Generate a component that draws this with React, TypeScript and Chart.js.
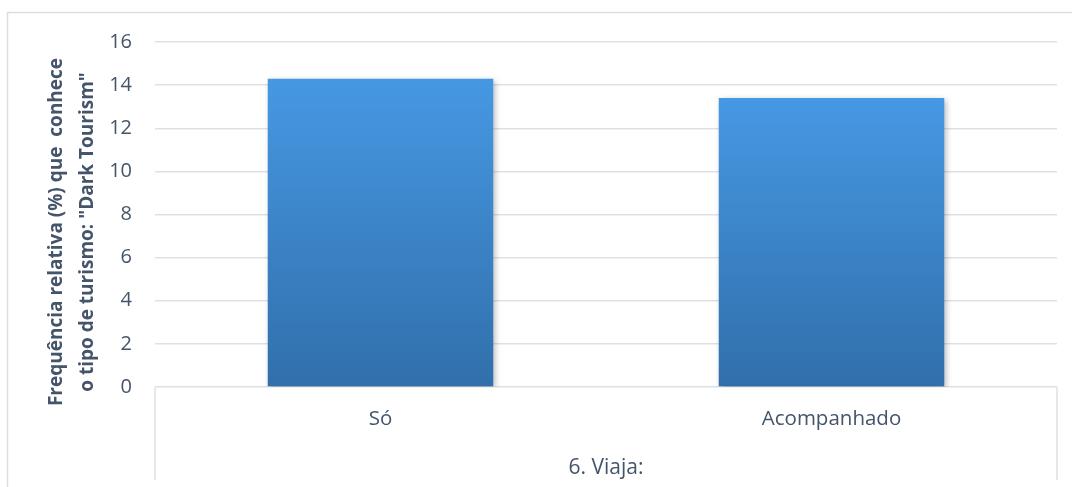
import React, { useEffect, useRef } from "react";
import { Chart, registerables } from "chart.js";

Chart.register(...registerables);

const categories: string[] = ["Só", "Acompanhado"];
const values: number[] = [14.3, 13.4];
const yTitleLines: string[] = ['Frequência relativa (%) que  conhece', 'o tipo de turismo: "Dark Tourism"'];
const xTitle = "6. Viaja:";

const FONT = "'Open Sans', 'Noto Sans', sans-serif";
const TEXT = "#44546a";
const GRID = "#dde1e7";

const decorPlugin = {
  id: "decor",
  beforeDatasetsDraw(chart: any) {
    const ctx = chart.ctx;
    ctx.save();
    ctx.shadowColor = "rgba(0,0,0,0.28)";
    ctx.shadowBlur = 6;
    ctx.shadowOffsetX = 2;
    ctx.shadowOffsetY = 2;
  },
  afterDatasetsDraw(chart: any) {
    chart.ctx.restore();
  },
  afterDraw(chart: any) {
    const ctx = chart.ctx;
    const a = chart.chartArea;
    ctx.save();
    // outer border
    ctx.strokeStyle = "#d9dde4";
    ctx.lineWidth = 1.5;
    ctx.strokeRect(7.5, 12.5, 1200, 600);
    // category box lines
    ctx.strokeStyle = GRID;
    ctx.lineWidth = 1.5;
    ctx.beginPath();
    ctx.moveTo(a.left, a.bottom);
    ctx.lineTo(a.left, 480);
    ctx.moveTo(a.right, a.bottom);
    ctx.lineTo(a.right, 480);
    ctx.stroke();
    // y title
    ctx.fillStyle = TEXT;
    ctx.font = `bold 19px ${FONT}`;
    ctx.textAlign = "center";
    ctx.textBaseline = "middle";
    ctx.translate(0, 232);
    ctx.rotate(-Math.PI / 2);
    ctx.fillText(yTitleLines[0], 0, 57);
    ctx.fillText(yTitleLines[1], 0, 88);
    ctx.restore();
  },
};

export default function App() {
  const ref = useRef<HTMLCanvasElement | null>(null);

  useEffect(() => {
    if (!ref.current) return;
    const chart = new Chart(ref.current, {
      type: "bar",
      data: {
        labels: categories,
        datasets: [
          {
            data: values,
            barPercentage: 0.5,
            categoryPercentage: 1,
            backgroundColor: (c: any) => {
              const ch = c.chart;
              const ys = ch.scales?.y;
              if (!ch.chartArea || !ys || c.raw == null) return "#3d86d0";
              const top = ys.getPixelForValue(c.raw);
              const bottom = ys.getPixelForValue(0);
              const g = ch.ctx.createLinearGradient(0, top, 0, bottom);
              g.addColorStop(0, "#4698e3");
              g.addColorStop(1, "#316fab");
              return g;
            },
            borderWidth: 0,
          },
        ],
      },
      options: {
        responsive: false,
        animation: false,
        devicePixelRatio: 1,
        layout: { padding: { top: 42, right: 15, bottom: 0, left: 0 } },
        plugins: { legend: { display: false }, tooltip: { enabled: false } },
        scales: {
          y: {
            min: 0,
            max: 16,
            ticks: { stepSize: 2, padding: 23, color: TEXT, font: { family: FONT, size: 20 } },
            grid: { color: GRID, lineWidth: 1.5, drawTicks: false },
            border: { display: false },
            afterFit: (s: any) => {
              s.width = 155;
            },
          },
          x: {
            ticks: { padding: 20, color: TEXT, font: { family: FONT, size: 20.5 } },
            grid: { display: false, drawTicks: false },
            border: { display: false },
            title: {
              display: true,
              text: xTitle,
              color: TEXT,
              font: { family: FONT, size: 21 },
              padding: { top: 0, bottom: 6 },
            },
            afterFit: (s: any) => {
              s.height = 100;
            },
          },
        },
      },
      plugins: [decorPlugin],
    });
    return () => chart.destroy();
  }, []);

  return (
    <div style={{ position: "fixed", left: 0, top: 0, width: 1072, height: 487, overflow: "hidden", background: "#fff" }}>
      <canvas ref={ref} width={1072} height={487} style={{ display: "block" }} />
    </div>
  );
}
